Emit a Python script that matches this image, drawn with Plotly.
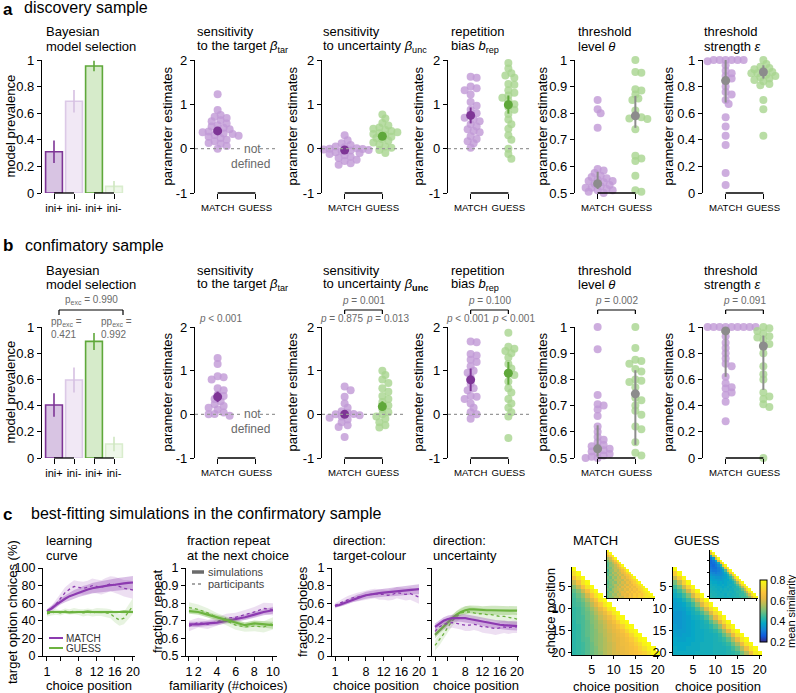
import plotly.graph_objects as go

W, H = 796, 693
FONT = "Liberation Sans, Arial, Helvetica, sans-serif"

# ======================= DATA =======================
model_labels = ['ini+', 'ini-', 'ini+', 'ini-']
group_labels = ['MATCH', 'GUESS']

# Bayesian model selection (model prevalence, error half-width)
a_prev = [0.31, 0.69, 0.955, 0.05]
a_prev_err = [0.085, 0.085, 0.04, 0.04]
b_prev = [0.405, 0.595, 0.89, 0.107]
b_prev_err = [0.09, 0.095, 0.065, 0.055]

# discovery sample parameter estimates
a_btar_match = [1.23, 0.87, 0.76, 0.72, 0.69, 0.64, 0.62, 0.57, 0.53, 0.50, 0.47, 0.44, 0.41, 0.39,
                0.37, 0.34, 0.33, 0.31, 0.29, 0.27, 0.24, 0.20, 0.17, 0.13, 0.11, 0.06, 0.0]
a_bunc_match = [0.30, 0.19, 0.12, 0.08, 0.05, 0.03, 0.0, -0.02, -0.04, -0.06, -0.08, -0.10, -0.12,
                -0.15, -0.18, -0.21, -0.25, -0.28, -0.33, -0.36, 0.01, -0.01, -0.03]
a_bunc_guess = [0.77, 0.68, 0.58, 0.52, 0.48, 0.45, 0.42, 0.40, 0.37, 0.35, 0.33, 0.30, 0.27, 0.24,
                0.21, 0.18, 0.14, 0.10, 0.05, 0.02, -0.03, -0.10]
a_brep_match = [1.62, 1.60, 1.40, 1.36, 1.32, 1.22, 1.05, 0.97, 0.88, 0.80, 0.76, 0.70, 0.66, 0.62,
                0.55, 0.50, 0.44, 0.40, 0.37, 0.28, 0.22, 0.17, 0.12, 0.02]
a_brep_guess = [1.93, 1.81, 1.70, 1.65, 1.60, 1.46, 1.44, 1.32, 1.26, 1.20, 1.15, 1.08, 1.00, 0.94,
                0.88, 0.78, 0.66, 0.55, 0.45, 0.30, 0.20, 0.0, -0.12, -0.23]
a_theta_match = [0.85, 0.815, 0.80, 0.745, 0.59, 0.585, 0.575, 0.565, 0.555, 0.55, 0.545, 0.54, 0.535,
                 0.53, 0.525, 0.52, 0.515, 0.51, 0.505, 0.50, 0.545, 0.56, 0.52, 0.51]
a_theta_guess = [1.0, 0.955, 0.952, 0.89, 0.885, 0.87, 0.855, 0.85, 0.81, 0.79, 0.785, 0.78, 0.778,
                 0.74, 0.64, 0.63, 0.62, 0.565, 0.51, 0.505]
a_eps_match = [1.0, 1.0, 1.0, 1.0, 1.0, 1.0, 0.99, 0.96, 0.92, 0.90, 0.88, 0.86, 0.84, 0.80, 0.76,
               0.74, 0.70, 0.67, 0.57, 0.50, 0.43, 0.36, 0.15, 0.06]
a_eps_guess = [1.0, 0.97, 0.95, 0.94, 0.93, 0.92, 0.91, 0.90, 0.90, 0.89, 0.88, 0.87, 0.86, 0.85,
               0.84, 0.82, 0.81, 0.70, 0.63, 0.43]

# confirmatory sample parameter estimates
b_btar_match = [1.29, 1.15, 0.87, 0.85, 0.80, 0.60, 0.55, 0.45, 0.42, 0.35, 0.30, 0.23, 0.19, 0.15,
                0.11, 0.04, 0.0, 0.01, -0.03]
b_bunc_match = [0.64, 0.55, 0.40, 0.25, 0.15, 0.07, 0.03, 0.0, 0.01, -0.02, -0.05, -0.08, -0.12,
                -0.18, -0.25, -0.29, -0.52]
b_bunc_guess = [1.0, 0.90, 0.80, 0.72, 0.60, 0.52, 0.42, 0.35, 0.28, 0.20, 0.12, 0.05, 0.0, -0.05,
                -0.10, -0.18, -0.25, -0.30]
b_brep_match = [1.67, 1.65, 1.38, 1.35, 1.25, 1.20, 1.10, 1.00, 0.95, 0.85, 0.70, 0.60, 0.55, 0.42,
                0.40, 0.35, 0.25, 0.15, 0.05, 0.0, -0.10]
b_brep_guess = [1.87, 1.55, 1.50, 1.45, 1.40, 1.30, 1.15, 1.05, 0.95, 0.90, 0.75, 0.60, 0.50, 0.35,
                0.25, 0.15, 0.05, -0.05, -0.54]
b_theta_match = [1.0, 0.915, 0.74, 0.705, 0.70, 0.685, 0.66, 0.62, 0.60, 0.58, 0.57, 0.56, 0.55,
                 0.545, 0.54, 0.535, 0.53, 0.525, 0.52, 0.515, 0.51, 0.505, 0.50, 0.50]
b_theta_guess = [1.0, 0.92, 0.875, 0.87, 0.86, 0.84, 0.83, 0.80, 0.795, 0.79, 0.77, 0.73, 0.72, 0.70,
                 0.68, 0.665, 0.62, 0.61, 0.56, 0.52, 0.51]
b_eps_match = [1.0, 1.0, 1.0, 1.0, 1.0, 1.0, 1.0, 1.0, 1.0, 1.0, 0.97, 0.93, 0.88, 0.84, 0.80, 0.76,
               0.72, 0.70, 0.62, 0.57, 0.54, 0.53, 0.50, 0.48, 0.43, 0.28]
b_eps_guess = [1.0, 0.99, 0.97, 0.95, 0.93, 0.92, 0.90, 0.87, 0.85, 0.80, 0.70, 0.64, 0.60, 0.50,
               0.47, 0.45, 0.41, 0.39, 0.0]

# group summaries: (mean, ci_low, ci_high)
a_btar_m = (0.40, 0.32, 0.48)
a_bunc_m, a_bunc_g = (-0.03, -0.07, 0.01), (0.28, 0.22, 0.34)
a_brep_m, a_brep_g = (0.75, 0.57, 0.93), (0.99, 0.79, 1.20)
a_theta_m, a_theta_g = (0.535, 0.515, 0.58), (0.79, 0.745, 0.865)
a_eps_m, a_eps_g = (0.845, 0.68, 1.0), (0.91, 0.86, 0.96)
b_btar_m = (0.40, 0.28, 0.52)
b_bunc_m, b_bunc_g = (0.0, -0.05, 0.05), (0.18, 0.08, 0.30)
b_brep_m, b_brep_g = (0.79, 0.53, 1.05), (0.94, 0.68, 1.20)
b_theta_m, b_theta_g = (0.535, 0.505, 0.625), (0.745, 0.55, 0.835)
b_eps_m, b_eps_g = (0.97, 0.62, 1.0), (0.855, 0.52, 0.935)

# simulations (panel c)
pos20 = list(range(1, 21))
fam10 = list(range(1, 11))
lc_match_sim = [51, 54, 58, 62, 65, 68, 70, 72, 74, 75.5, 77, 78, 79, 80, 80.5, 81, 82, 82.5, 83, 83.5]
lc_match_part = [50, 53, 59, 66, 72, 76, 79, 78, 77, 78, 80, 79, 78, 80, 82, 81, 79, 77, 76, 75]
lc_guess_sim = [50, 50, 50.5, 50, 50, 49.5, 50, 50, 50, 50.5, 50, 50, 49.5, 50, 50, 50, 50, 50.5, 50, 50]
lc_guess_part = [48, 49, 50, 49, 51, 50, 51, 50, 49, 50, 49, 50, 50, 49, 48, 44, 41, 43, 50, 57]
lc_match_sim_w = [2, 2.5, 3, 3.5, 4, 4.5, 5, 5, 5.5, 5.5, 6, 6, 6, 6.5, 6.5, 7, 7, 7, 7.5, 7.5]
lc_match_part_w = [3, 4, 5, 5.5, 6, 6.5, 7, 7, 7.5, 7.5, 8, 8, 8, 8.5, 8.5, 9, 9, 9.5, 10, 10]
lc_guess_sim_w = [1.5, 1.5, 1.5, 1.5, 1.5, 1.5, 1.5, 1.5, 1.5, 1.5, 1.5, 1.5, 1.5, 1.5, 1.5, 1.5, 1.5, 1.5, 1.5, 1.5]
lc_guess_part_w = [3, 3, 3, 3, 3, 3, 3.5, 3.5, 4, 4, 4, 4.5, 4.5, 5, 5, 6, 6.5, 7, 8, 9]

fr_match_sim = [0.68, 0.68, 0.685, 0.69, 0.70, 0.71, 0.72, 0.735, 0.75, 0.76]
fr_match_part = [0.67, 0.69, 0.68, 0.695, 0.715, 0.72, 0.735, 0.75, 0.77, 0.765]
fr_guess_sim = [0.755, 0.75, 0.735, 0.72, 0.705, 0.69, 0.675, 0.685, 0.68, 0.675]
fr_guess_part = [0.775, 0.765, 0.745, 0.72, 0.70, 0.675, 0.665, 0.67, 0.665, 0.685]
fr_sim_w = [0.015, 0.015, 0.015, 0.015, 0.015, 0.015, 0.016, 0.017, 0.018, 0.02]
fr_part_w = [0.03, 0.028, 0.026, 0.025, 0.025, 0.026, 0.027, 0.029, 0.032, 0.035]

tc_match_sim = [0.57, 0.58, 0.60, 0.62, 0.64, 0.66, 0.675, 0.69, 0.70, 0.71, 0.715, 0.72, 0.725, 0.73,
                0.735, 0.74, 0.745, 0.75, 0.755, 0.76]
tc_match_part = [0.57, 0.60, 0.62, 0.64, 0.66, 0.67, 0.68, 0.69, 0.70, 0.71, 0.70, 0.70, 0.69, 0.70,
                 0.72, 0.71, 0.70, 0.71, 0.69, 0.67]
tc_sim_w = [0.02, 0.02, 0.025, 0.03, 0.03, 0.035, 0.035, 0.04, 0.04, 0.04, 0.045, 0.045, 0.045, 0.05,
            0.05, 0.05, 0.05, 0.055, 0.055, 0.055]
tc_part_w = [0.03, 0.035, 0.04, 0.045, 0.045, 0.05, 0.05, 0.055, 0.055, 0.055, 0.06, 0.06, 0.06, 0.065,
             0.065, 0.065, 0.07, 0.07, 0.07, 0.075]

un_match_sim = [0.33, 0.37, 0.40, 0.42, 0.43, 0.43, 0.43, 0.43, 0.42, 0.41, 0.40, 0.39, 0.38, 0.37,
                0.36, 0.355, 0.35, 0.345, 0.34, 0.34]
un_match_part = [0.28, 0.33, 0.36, 0.37, 0.38, 0.37, 0.36, 0.35, 0.35, 0.36, 0.35, 0.33, 0.33, 0.32,
                 0.31, 0.32, 0.33, 0.32, 0.33, 0.33]
un_guess_sim = [0.24, 0.29, 0.34, 0.39, 0.43, 0.47, 0.50, 0.52, 0.53, 0.53, 0.525, 0.52, 0.52, 0.52,
                0.52, 0.52, 0.515, 0.515, 0.52, 0.515]
un_guess_part = [0.12, 0.18, 0.25, 0.33, 0.40, 0.45, 0.49, 0.50, 0.50, 0.49, 0.48, 0.48, 0.47, 0.47,
                 0.46, 0.45, 0.45, 0.44, 0.43, 0.42]
un_sim_w = [0.04, 0.04, 0.04, 0.04, 0.04, 0.04, 0.04, 0.045, 0.045, 0.045, 0.045, 0.045, 0.05, 0.05,
            0.05, 0.05, 0.05, 0.05, 0.05, 0.05]
un_part_w = [0.06, 0.06, 0.06, 0.06, 0.06, 0.06, 0.06, 0.065, 0.065, 0.065, 0.065, 0.065, 0.07, 0.07,
             0.07, 0.07, 0.07, 0.07, 0.07, 0.07]

# mean similarity (x100), lower triangle rows: choice position 1..20
sim_match_model = [
    [85], [74, 85], [66, 74, 85], [58, 66, 75, 85], [52, 58, 67, 75, 85],
    [48, 52, 59, 67, 75, 85], [46, 49, 53, 60, 68, 75, 85], [45, 47, 50, 55, 61, 68, 76, 85],
    [45, 46, 48, 52, 57, 62, 69, 76, 85], [44, 45, 47, 50, 54, 58, 63, 69, 76, 85],
    [44, 45, 47, 49, 52, 56, 60, 64, 70, 76, 85], [44, 45, 46, 49, 51, 54, 58, 61, 65, 70, 77, 85],
    [43, 45, 46, 48, 51, 53, 56, 59, 62, 66, 71, 77, 85],
    [43, 44, 46, 48, 50, 53, 55, 58, 61, 63, 67, 71, 77, 85],
    [43, 44, 46, 48, 50, 52, 55, 57, 60, 62, 64, 67, 72, 77, 85],
    [43, 44, 46, 48, 50, 52, 54, 57, 59, 61, 63, 65, 68, 72, 78, 85],
    [43, 44, 46, 47, 50, 52, 54, 56, 59, 61, 62, 64, 66, 69, 73, 78, 85],
    [43, 44, 45, 47, 49, 52, 54, 56, 58, 60, 62, 64, 65, 67, 70, 73, 78, 85],
    [43, 44, 45, 47, 49, 51, 54, 56, 58, 60, 62, 63, 65, 66, 68, 71, 74, 78, 85],
    [43, 44, 45, 47, 49, 51, 53, 56, 58, 60, 61, 63, 64, 66, 67, 69, 71, 74, 79, 85]]
sim_guess_model = [
    [85], [70, 85], [58, 70, 85], [50, 58, 71, 85], [45, 50, 59, 71, 85],
    [41, 45, 51, 60, 72, 85], [39, 41, 45, 51, 60, 72, 85], [37, 38, 41, 45, 51, 60, 72, 85],
    [36, 37, 38, 41, 45, 52, 61, 72, 85], [36, 36, 37, 39, 41, 46, 52, 61, 73, 85],
    [35, 35, 36, 38, 40, 42, 46, 52, 61, 73, 85], [35, 35, 36, 37, 39, 40, 42, 46, 53, 62, 73, 85],
    [35, 35, 36, 37, 38, 39, 40, 42, 47, 53, 62, 73, 85],
    [36, 35, 36, 37, 38, 39, 40, 41, 43, 47, 53, 62, 74, 85],
    [36, 36, 36, 37, 38, 39, 39, 40, 41, 43, 47, 54, 63, 74, 85],
    [37, 36, 37, 37, 38, 39, 39, 40, 40, 41, 43, 48, 54, 63, 74, 85],
    [38, 37, 37, 38, 38, 39, 39, 40, 40, 41, 42, 44, 48, 55, 64, 75, 85],
    [38, 38, 38, 38, 39, 39, 40, 40, 40, 41, 41, 42, 44, 49, 55, 64, 75, 85],
    [39, 38, 38, 39, 39, 39, 40, 40, 40, 41, 41, 41, 42, 45, 49, 56, 65, 75, 85],
    [39, 39, 39, 39, 39, 40, 40, 40, 40, 41, 41, 41, 42, 43, 45, 50, 56, 65, 76, 85]]
sim_match_part = [
    [85], [70, 85], [62, 69, 85], [55, 60, 70, 85], [50, 56, 61, 68, 85],
    [48, 52, 57, 62, 70, 85], [47, 53, 54, 58, 63, 69, 85], [49, 50, 55, 57, 60, 64, 71, 85],
    [46, 52, 53, 58, 56, 61, 65, 70, 85], [48, 50, 56, 54, 59, 58, 63, 66, 72, 85],
    [47, 53, 52, 57, 55, 61, 59, 64, 67, 71, 85], [50, 49, 55, 53, 58, 56, 62, 60, 65, 68, 73, 85],
    [48, 52, 51, 56, 57, 59, 57, 63, 61, 66, 69, 72, 85],
    [47, 51, 54, 52, 58, 56, 61, 59, 64, 62, 67, 70, 74, 85],
    [49, 50, 53, 57, 55, 60, 58, 63, 60, 65, 63, 68, 70, 74, 85],
    [48, 52, 51, 55, 59, 57, 62, 60, 65, 62, 66, 64, 69, 71, 75, 85],
    [50, 49, 54, 56, 58, 61, 59, 64, 61, 66, 63, 67, 65, 70, 72, 76, 85],
    [47, 53, 52, 57, 55, 60, 63, 61, 66, 63, 68, 65, 69, 67, 71, 73, 76, 85],
    [49, 51, 55, 54, 59, 57, 62, 64, 62, 67, 64, 69, 66, 70, 68, 72, 74, 77, 85],
    [48, 52, 53, 57, 56, 61, 59, 65, 63, 68, 65, 70, 67, 71, 69, 73, 75, 74, 78, 85]]
sim_guess_part = [
    [85], [62, 85], [40, 60, 85], [30, 36, 60, 85], [28, 30, 38, 62, 85],
    [28, 29, 31, 40, 63, 85], [29, 28, 30, 33, 42, 64, 85], [30, 29, 29, 31, 35, 44, 65, 85],
    [31, 30, 30, 31, 33, 37, 46, 66, 85], [33, 32, 31, 32, 33, 35, 39, 48, 67, 85],
    [35, 34, 33, 33, 34, 35, 37, 41, 50, 68, 85], [37, 36, 35, 35, 35, 36, 37, 39, 43, 52, 69, 85],
    [38, 37, 37, 36, 36, 37, 38, 38, 40, 45, 53, 70, 85],
    [39, 38, 38, 37, 38, 37, 38, 39, 39, 41, 46, 55, 71, 85],
    [40, 39, 39, 38, 38, 39, 38, 39, 40, 40, 42, 47, 56, 72, 85],
    [40, 40, 39, 39, 39, 38, 39, 40, 39, 41, 41, 43, 48, 57, 72, 85],
    [41, 40, 40, 39, 40, 39, 40, 39, 40, 40, 42, 42, 44, 49, 58, 73, 85],
    [41, 41, 40, 40, 39, 40, 40, 40, 41, 40, 41, 43, 43, 45, 50, 59, 74, 85],
    [42, 41, 41, 40, 40, 40, 39, 41, 40, 41, 41, 42, 44, 44, 46, 51, 60, 74, 85],
    [42, 42, 41, 41, 40, 41, 40, 40, 41, 41, 42, 42, 43, 45, 45, 47, 52, 61, 75, 85]]

# ======================= STYLE =======================
PURPLE = '#7e3596'
GREEN = '#5fa83a'
LPURPLE = '#8c3ab0'
LGREEN = '#6cb33f'
PT_P = 'rgba(192,152,214,0.8)'
PT_G = 'rgba(168,212,142,0.8)'
GREYM = '#8c8c8c'
TGREY = '#6a6a6a'
PARULA = [[0.0, '#352a87'], [0.1, '#0f5cdd'], [0.2, '#1485d4'], [0.3, '#06a7c6'],
          [0.4, '#33b8a1'], [0.5, '#75bf7c'], [0.6, '#b3bd5b'], [0.7, '#e6b943'],
          [0.8, '#fcc43a'], [0.9, '#f5e12b'], [1.0, '#f9fb0e']]


def PX(x):
    return x / W


def PY(y):
    return 1 - y / H


layout = dict(width=W, height=H, margin=dict(l=0, r=0, t=0, b=0, autoexpand=False),
              paper_bgcolor='white', plot_bgcolor='rgba(0,0,0,0)', showlegend=False,
              barmode='overlay', font=dict(family=FONT, size=13, color='black'))
shapes, anns, traces = [], [], []
n_ax = [0]


def add_axes(x0, x1, y0, y1, xa, ya):
    n_ax[0] += 1
    s = '' if n_ax[0] == 1 else str(n_ax[0])
    xa = dict(xa)
    ya = dict(ya)
    xa.update(domain=[PX(x0), PX(x1)], anchor='y' + s, tickangle=0, automargin=False)
    ya.update(domain=[PY(y1), PY(y0)], anchor='x' + s, automargin=False)
    layout['xaxis' + s] = xa
    layout['yaxis' + s] = ya
    return 'x' + s, 'y' + s


def fmt(v):
    if abs(v - round(v)) < 1e-9:
        return str(int(round(v)))
    return ('%.1f' % v)


def yax(rng, vals, labels=True, size=13):
    return dict(range=rng, tickvals=vals, ticktext=[fmt(v) for v in vals], showticklabels=labels,
                showline=True, linecolor='black', linewidth=1.3, ticks='outside', ticklen=4,
                tickwidth=1.3, tickcolor='black', showgrid=False, zeroline=False,
                tickfont=dict(size=size))


def text(x, y, s, size=13, xa='left', ya='middle', color='black', angle=0, bg=None):
    d = dict(x=PX(x), y=PY(y), xref='paper', yref='paper', text=s, showarrow=False,
             xanchor=xa, yanchor=ya, font=dict(size=size, color=color, family=FONT),
             textangle=angle, borderpad=0)
    if bg:
        d['bgcolor'] = bg
    anns.append(d)


def hline_px(x0, x1, y, w=1.2, color='black'):
    shapes.append(dict(type='line', xref='paper', yref='paper', x0=PX(x0), x1=PX(x1),
                       y0=PY(y), y1=PY(y), line=dict(color=color, width=w)))


def swarm(vals, ppu_y, ppu_x, d=7.5):
    idx = sorted(range(len(vals)), key=lambda i: -vals[i])
    placed = []
    offs = [0.0] * len(vals)
    step = d * 0.4
    for i in idx:
        yv = vals[i] * ppu_y
        k = 0
        while True:
            m = (k + 1) // 2
            cand = m * step * (1 if k % 2 == 1 else -1)
            if all((cand - a) ** 2 + (yv - b) ** 2 >= (0.66 * d) ** 2 for a, b in placed):
                break
            k += 1
        placed.append((cand, yv))
        offs[i] = cand / ppu_x
    return offs


SC_W = 83
SC_XR = [-0.6, 1.6]


def cat_px(x0, c):
    return x0 + (c - SC_XR[0]) / (SC_XR[1] - SC_XR[0]) * SC_W


def scatter_panel(x0, top, bottom, yrng, yticks, mvals, gvals, msum, gsum, grey_mean=False,
                  zero=False, not_def=False, title_off=28):
    xa = dict(range=SC_XR, tickvals=[0, 1], ticktext=group_labels, ticks='outside', ticklen=5,
              tickwidth=1.3, tickcolor='black', showline=False, showgrid=False, zeroline=False,
              tickfont=dict(size=9.6))
    xn, yn = add_axes(x0, x0 + SC_W, top, bottom, xa, yax(yrng, yticks))
    shapes.append(dict(type='line', xref=xn, yref='paper', x0=0, x1=1, y0=PY(bottom), y1=PY(bottom),
                       line=dict(color='black', width=1.3)))
    if zero:
        if not_def:
            shapes.append(dict(type='line', xref='paper', yref=yn, x0=PX(x0), x1=PX(x0 + 48), y0=0, y1=0,
                               line=dict(color='#999999', width=1.2, dash='dot')))
            shapes.append(dict(type='line', xref='paper', yref=yn, x0=PX(x0 + 65), x1=PX(x0 + SC_W), y0=0,
                               y1=0, line=dict(color='#999999', width=1.2, dash='dot')))
        else:
            shapes.append(dict(type='line', xref='paper', yref=yn, x0=PX(x0), x1=PX(x0 + SC_W), y0=0, y1=0,
                               line=dict(color='#999999', width=1.2, dash='dot')))
    ppu_y = (bottom - top) / (yrng[1] - yrng[0])
    ppu_x = SC_W / (SC_XR[1] - SC_XR[0])
    groups = [(0, mvals, msum, PT_P, PURPLE)]
    if gvals is not None:
        groups.append((1, gvals, gsum, PT_G, GREEN))
    for c, vals, summ, pc, mc in groups:
        offs = swarm(vals, ppu_y, ppu_x)
        traces.append(go.Scatter(x=[c + o for o in offs], y=vals, mode='markers', xaxis=xn, yaxis=yn,
                                 marker=dict(size=8, color=pc, line=dict(width=0)), cliponaxis=False,
                                 hoverinfo='skip'))
    for c, vals, summ, pc, mc in groups:
        col = GREYM if grey_mean else mc
        mean, lo, hi = summ
        traces.append(go.Scatter(x=[c], y=[mean], mode='markers', xaxis=xn, yaxis=yn,
                                 marker=dict(size=9, color=col),
                                 error_y=dict(type='data', symmetric=False, array=[hi - mean],
                                              arrayminus=[mean - lo], color=col, thickness=2, width=0),
                                 cliponaxis=False, hoverinfo='skip'))
    text(x0 - title_off, (top + bottom) / 2, 'parameter estimates', size=13, xa='center', angle=-90)
    if not_def:
        zy = bottom - (0 - yrng[0]) * ppu_y
        text(cat_px(x0, 1) - 3, zy, 'not', size=12, xa='center', color=TGREY)
        text(cat_px(x0, 1) - 5, zy + 15, 'defined', size=12, xa='center', color=TGREY)
    return xn, yn


def bar_panel(top, bottom, vals, errs):
    xa = dict(range=[-0.6, 3.55], tickvals=[0, 1, 2, 3], ticktext=model_labels, ticks='outside',
              ticklen=5, tickwidth=1.3, tickcolor='black', showline=False, showgrid=False,
              zeroline=False, tickfont=dict(size=11))
    xn, yn = add_axes(42, 125, top, bottom, xa, yax([0, 1], [0, 0.2, 0.4, 0.6, 0.8, 1]))
    fills = ['#d8c4e3', '#f1e8f5', '#d6ebca', '#eef7e9']
    lines = [PURPLE, '#dcc9e7', GREEN, '#d9edcd']
    ecols = [PURPLE, '#d6c0e2', GREEN, '#cfe6c0']
    for i in range(4):
        traces.append(go.Bar(x=[i], y=[vals[i]], width=0.84, xaxis=xn, yaxis=yn,
                             marker=dict(color=fills[i], line=dict(color=lines[i], width=1.6)),
                             error_y=dict(type='data', array=[errs[i]], color=ecols[i], thickness=1.6,
                                          width=0), hoverinfo='skip'))
    for a, b in [(0, 1), (2, 3)]:
        shapes.append(dict(type='line', xref=xn, yref='paper', x0=a, x1=b, y0=PY(bottom),
                           y1=PY(bottom), line=dict(color='black', width=1.3)))
    text(10, (top + bottom) / 2, 'model prevalence', size=13, xa='center', angle=-90)
    return xn, yn


def two_line_title(x, y, l1, l2):
    text(x, y, l1, size=13)
    text(x, y + 15, l2, size=13)


# ======================= ROW A =======================
text(2, 9, '<b>a</b>', size=17)
text(23, 8, 'discovery sample', size=16)
TA, BA = 60, 193
bar_panel(TA, BA, a_prev, a_prev_err)
SX = [195, 322, 448, 575, 703]
scatter_panel(SX[0], TA, BA, [-1, 2], [-1, 0, 1, 2], a_btar_match, None, a_btar_m, None, zero=True,
              not_def=True, title_off=28)
scatter_panel(SX[1], TA, BA, [-1, 2], [-1, 0, 1, 2], a_bunc_match, a_bunc_guess, a_bunc_m, a_bunc_g,
              zero=True, title_off=30)
scatter_panel(SX[2], TA, BA, [-1, 2], [-1, 0, 1, 2], a_brep_match, a_brep_guess, a_brep_m, a_brep_g,
              zero=True, title_off=30)
scatter_panel(SX[3], TA, BA, [0.5, 1], [0.5, 0.6, 0.7, 0.8, 0.9, 1], a_theta_match, a_theta_guess,
              a_theta_m, a_theta_g, grey_mean=True, title_off=33)
scatter_panel(SX[4], TA, BA, [0, 1], [0, 0.2, 0.4, 0.6, 0.8, 1], a_eps_match, a_eps_guess,
              a_eps_m, a_eps_g, grey_mean=True, title_off=35)

titles_a = [(45, 'Bayesian', 'model selection'),
            (196, 'sensitivity', 'to the target <i>β</i><sub>tar</sub>'),
            (322, 'sensitivity', 'to uncertainty <i>β</i><sub>unc</sub>'),
            (450, 'repetition', 'bias <i>b</i><sub>rep</sub>'),
            (577, 'threshold', 'level <i>θ</i>'),
            (703, 'threshold', 'strength <i>ε</i>')]
for x, l1, l2 in titles_a:
    two_line_title(x, 31, l1, l2)

# ======================= ROW B =======================
text(2, 246, '<b>b</b>', size=17)
text(24, 245, 'confimatory sample', size=16)
TB, BB = 327, 458
bar_panel(TB, BB, b_prev, b_prev_err)
scatter_panel(SX[0], TB, BB, [-1, 2], [-1, 0, 1, 2], b_btar_match, None, b_btar_m, None, zero=True,
              not_def=True, title_off=28)
scatter_panel(SX[1], TB, BB, [-1, 2], [-1, 0, 1, 2], b_bunc_match, b_bunc_guess, b_bunc_m, b_bunc_g,
              zero=True, title_off=30)
scatter_panel(SX[2], TB, BB, [-1, 2], [-1, 0, 1, 2], b_brep_match, b_brep_guess, b_brep_m, b_brep_g,
              zero=True, title_off=30)
scatter_panel(SX[3], TB, BB, [0.5, 1], [0.5, 0.6, 0.7, 0.8, 0.9, 1], b_theta_match, b_theta_guess,
              b_theta_m, b_theta_g, grey_mean=True, title_off=33)
scatter_panel(SX[4], TB, BB, [0, 1], [0, 0.2, 0.4, 0.6, 0.8, 1], b_eps_match, b_eps_guess,
              b_eps_m, b_eps_g, grey_mean=True, title_off=35)
for x, l1, l2 in titles_a:
    two_line_title(x, 270, l1, l2.replace('<i>β</i><sub>unc</sub>', '<i>β</i><sub><b>unc</b></sub>'))

# p-value annotations
PS = 10
text(91, 300, 'p<sub>exc</sub> = 0.990', size=PS, xa='center', color=TGREY)
hline_px(59, 123, 310)
shapes.append(dict(type='line', xref='paper', yref='paper', x0=PX(59), x1=PX(59), y0=PY(310), y1=PY(315),
                   line=dict(color='black', width=1.2)))
shapes.append(dict(type='line', xref='paper', yref='paper', x0=PX(123), x1=PX(123), y0=PY(310), y1=PY(315),
                   line=dict(color='black', width=1.2)))
text(50, 322, 'pp<sub>exc</sub> =', size=PS, color=TGREY)
text(50, 334, '0.421', size=PS, color=TGREY)
text(100, 322, 'pp<sub>exc</sub> =', size=PS, color=TGREY)
text(100, 334, '0.992', size=PS, color=TGREY)

text(cat_px(SX[0], 0) + 3, 319, '<i>p</i> < 0.001', size=PS, xa='center', color=TGREY)


def bracket(x0, label_top, p_left=None, p_right=None):
    a, b = cat_px(x0, 0), cat_px(x0, 1)
    text((a + b) / 2, 300, label_top, size=PS, xa='center', color=TGREY)
    hline_px(a, b, 310)
    for xx in (a, b):
        shapes.append(dict(type='line', xref='paper', yref='paper', x0=PX(xx), x1=PX(xx), y0=PY(310),
                           y1=PY(314), line=dict(color='black', width=1.2)))
    if p_left:
        text(a - 3, 319, p_left, size=PS, xa='center', color=TGREY)
    if p_right:
        text(b + 5, 319, p_right, size=PS, xa='center', color=TGREY)


bracket(SX[1], '<i>p</i> = 0.001', '<i>p</i> = 0.875', '<i>p</i> = 0.013')
bracket(SX[2], '<i>p</i> = 0.100', '<i>p</i> < 0.001', '<i>p</i> < 0.001')
bracket(SX[3], '<i>p</i> = 0.002')
bracket(SX[4], '<i>p</i> = 0.091')

# ======================= ROW C =======================
text(2, 514, '<b>c</b>', size=17)
text(30, 513, 'best-fitting simulations in the confirmatory sample', size=16)
TC, BC = 568, 656


def line_axes(x0, x1, xr, xt, xtt, yr, yt, ylab=True):
    xa = dict(range=xr, tickvals=xt, ticktext=xtt, showline=True, linecolor='black', linewidth=1.3,
              ticks='outside', ticklen=4, tickwidth=1.3, tickcolor='black', showgrid=False,
              zeroline=False, tickfont=dict(size=12.5))
    return add_axes(x0, x1, TC, BC, xa, yax(yr, yt, labels=ylab, size=12.5))


def rgba(hexc, a):
    h = hexc.lstrip('#')
    return 'rgba(%d,%d,%d,%s)' % (int(h[0:2], 16), int(h[2:4], 16), int(h[4:6], 16), a)


def series(xn, yn, xs, sim, simw, part, partw, color):
    for vals, w, a in [(part, partw, 0.16), (sim, simw, 0.32)]:
        up = [v + d for v, d in zip(vals, w)]
        lo = [v - d for v, d in zip(vals, w)]
        traces.append(go.Scatter(x=list(xs) + list(xs)[::-1], y=up + lo[::-1], fill='toself',
                                 fillcolor=rgba(color, a), line=dict(width=0), mode='lines',
                                 xaxis=xn, yaxis=yn, hoverinfo='skip'))
    traces.append(go.Scatter(x=xs, y=part, mode='lines', line=dict(color=color, width=1.3, dash='dot'),
                             xaxis=xn, yaxis=yn, hoverinfo='skip'))
    traces.append(go.Scatter(x=xs, y=sim, mode='lines', line=dict(color=color, width=2.2),
                             xaxis=xn, yaxis=yn, hoverinfo='skip'))


XT20 = [1, 4, 8, 12, 16, 20]
XTT20 = ['1', '', '8', '12', '16', '20']
# c1 learning curve
xn, yn = line_axes(43, 135, [0.12, 20.45], XT20, XTT20, [0, 100], [0, 20, 40, 60, 80, 100])
series(xn, yn, pos20, lc_match_sim, lc_match_sim_w, lc_match_part, lc_match_part_w, LPURPLE)
series(xn, yn, pos20, lc_guess_sim, lc_guess_sim_w, lc_guess_part, lc_guess_part_w, LGREEN)
two_line_title(45, 540, 'learning', 'curve')
text(12, 612, 'target option choices (%)', xa='center', angle=-90)
text(89, 685, 'choice position', xa='center')
hline_px(49, 63, 638, w=2, color=LPURPLE)
hline_px(49, 63, 648, w=2, color=LGREEN)
text(65, 638, 'MATCH', size=10, color='#333333')
text(65, 648, 'GUESS', size=10, color='#333333')

# c2 fraction repeat
xn, yn = line_axes(186, 277, [0.68, 10.43], [1, 2, 4, 6, 8, 10], ['1', '2', '4', '6', '8', '10'],
                   [0.5, 1], [0.5, 0.6, 0.7, 0.8, 0.9, 1])
series(xn, yn, fam10, fr_match_sim, fr_sim_w, fr_match_part, fr_part_w, LPURPLE)
series(xn, yn, fam10, fr_guess_sim, fr_sim_w, fr_guess_part, fr_part_w, LGREEN)
two_line_title(186, 540, 'fraction repeat', 'at the next choice')
text(157, 612, 'fraction repeat', xa='center', angle=-90)
text(228, 685, 'familiarity (#choices)', xa='center')
hline_px(192, 204, 572, w=3.5, color='#6b6b6b')
shapes.append(dict(type='line', xref='paper', yref='paper', x0=PX(192), x1=PX(204), y0=PY(584),
                   y1=PY(584), line=dict(color='#8a8a8a', width=1.5, dash='dot')))
text(207, 572, 'simulations', size=11, color='#444444')
text(207, 584, 'participants', size=11, color='#444444')

# c3 target-colour
xn, yn = line_axes(332, 421, [0.32, 20.45], XT20, XTT20, [0, 1], [0, 0.2, 0.4, 0.6, 0.8, 1])
series(xn, yn, pos20, tc_match_sim, tc_sim_w, tc_match_part, tc_part_w, LPURPLE)
two_line_title(332, 540, 'direction:', 'target-colour')
text(302, 612, 'fraction choices', xa='center', angle=-90)
text(376, 685, 'choice position', xa='center')

# c4 uncertainty
xn, yn = line_axes(432, 519, [0.3, 20.45], XT20, XTT20, [0, 1], [0, 0.2, 0.4, 0.6, 0.8, 1], ylab=False)
series(xn, yn, pos20, un_guess_sim, un_sim_w, un_guess_part, un_part_w, LGREEN)
series(xn, yn, pos20, un_match_sim, un_sim_w, un_match_part, un_part_w, LPURPLE)
two_line_title(432, 540, 'direction:', 'uncertainty')
text(476, 685, 'choice position', xa='center')


# heatmaps
def tri(rows):
    z = []
    for r in rows:
        z.append([v / 100.0 for v in r] + [None] * (20 - len(r)))
    return z


def heat_axes(x0, x1, y0, y1, main=True):
    base = dict(showline=True, linecolor='black', linewidth=1 if main else 0.8, ticks='outside',
                ticklen=3 if main else 2, tickwidth=1, tickcolor='black', showgrid=False,
                zeroline=False, tickfont=dict(size=12.5), showticklabels=main,
                tickvals=[5, 10, 15, 20])
    xa = dict(base, range=[0.5, 20.5])
    ya = dict(base, range=[20.5, 0.5])
    return add_axes(x0, x1, y0, y1, xa, ya)


for (mx0, mx1, ix0, ix1, model_rows, part_rows, name) in [
        (572, 660, 607, 655, sim_match_model, sim_match_part, 'MATCH'),
        (673, 762, 710, 758, sim_guess_model, sim_guess_part, 'GUESS')]:
    xn, yn = heat_axes(mx0, mx1, 567, 655, main=True)
    traces.append(go.Heatmap(z=tri(model_rows), x=pos20, y=pos20, coloraxis='coloraxis', xaxis=xn,
                             yaxis=yn, hoverinfo='skip'))
    xn, yn = heat_axes(ix0, ix1, 550, 598, main=False)
    traces.append(go.Heatmap(z=tri(part_rows), x=pos20, y=pos20, coloraxis='coloraxis', xaxis=xn,
                             yaxis=yn, hoverinfo='skip'))
    text(mx0, 540, name, size=13)
    text((mx0 + mx1) / 2, 686, 'choice position', xa='center')
text(550, 611, 'choice position', xa='center', angle=-90)
text(791, 611, 'mean similarity', size=11, xa='center', angle=-90)

layout['coloraxis'] = dict(colorscale=PARULA, cmin=0.2, cmax=0.8,
                           colorbar=dict(x=PX(760), xanchor='left', y=PY(611), yanchor='middle',
                                         len=62, lenmode='pixels', thickness=7, thicknessmode='pixels',
                                         tickvals=[0.2, 0.4, 0.6, 0.8], ticktext=['0.2', '0.4', '0.6', '0.8'],
                                         ticks='', tickfont=dict(size=11), outlinewidth=1,
                                         outlinecolor='black', xpad=0, ypad=0))

layout['shapes'] = shapes
layout['annotations'] = anns
fig = go.Figure(data=traces, layout=layout)
fig.write_html("out.html")
